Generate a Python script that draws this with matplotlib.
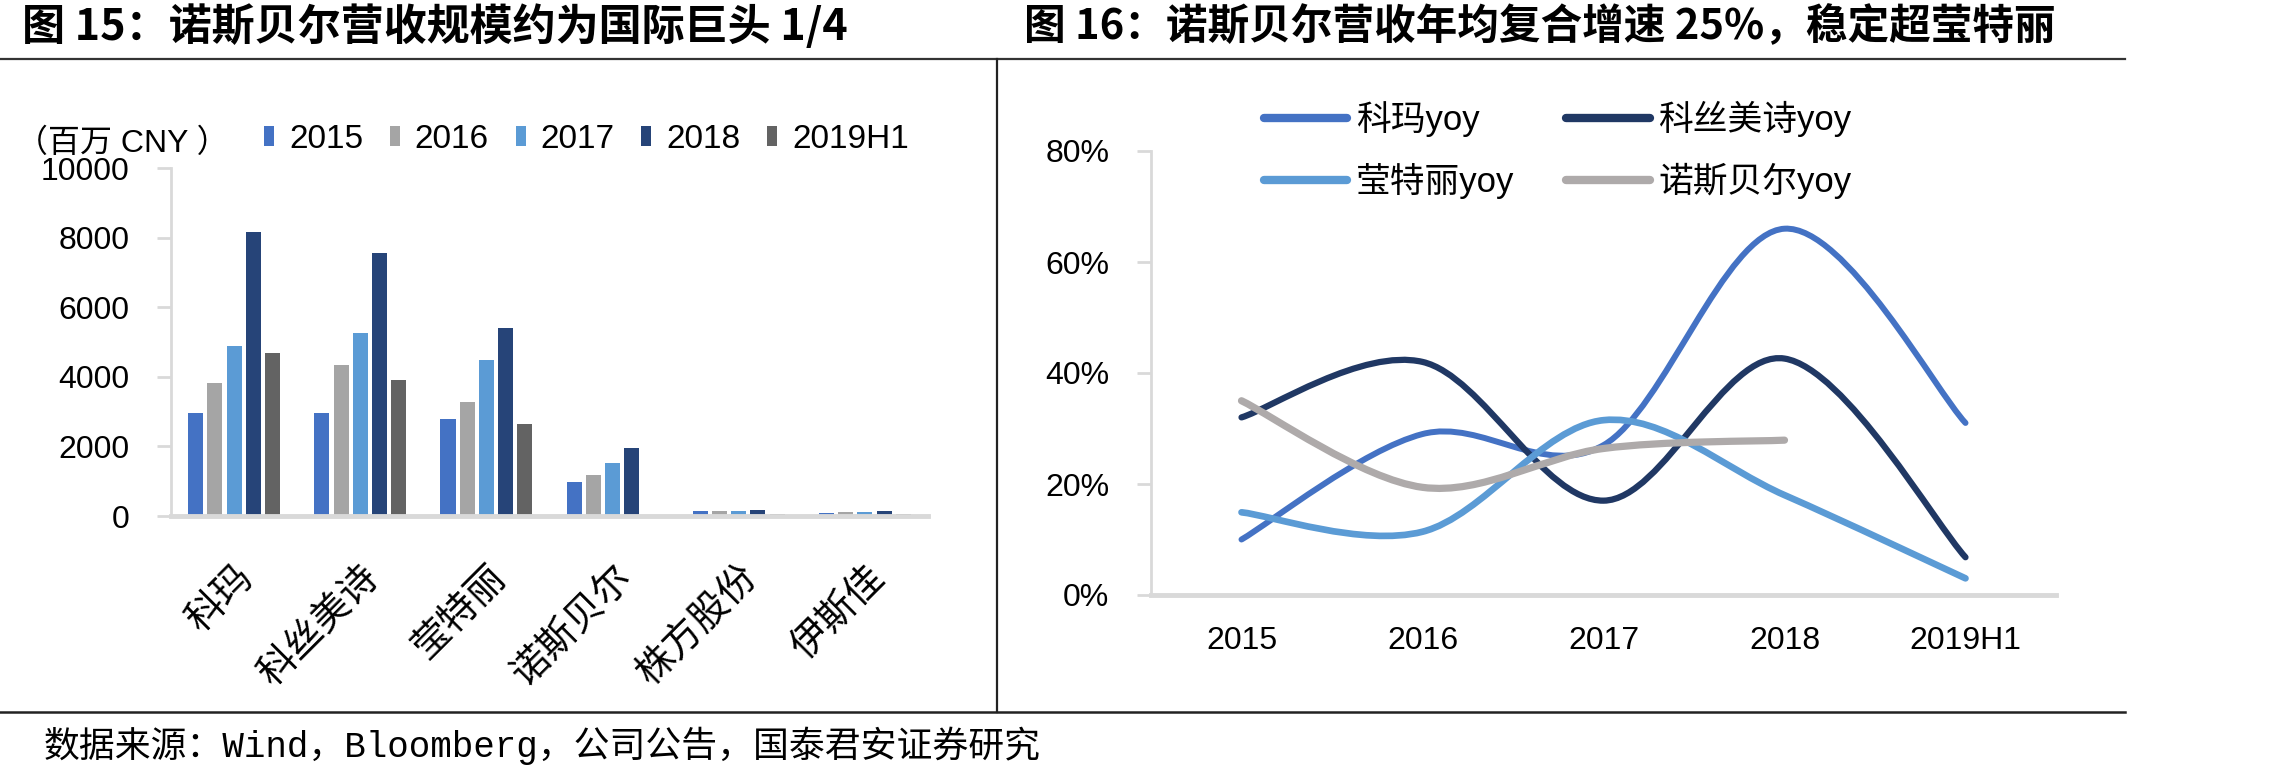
import numpy as np
import matplotlib
matplotlib.use("Agg")
import matplotlib.pyplot as plt
from matplotlib.lines import Line2D
from matplotlib.patches import Patch, PathPatch
from matplotlib.path import Path
from matplotlib.transforms import ScaledTranslation

# ---------------- data ----------------
companies = ["科玛", "科丝美诗", "莹特丽", "诺斯贝尔", "株方股份", "伊斯佳"]
bar_years = ["2015", "2016", "2017", "2018", "2019H1"]
rev_2015 = [2960, 2950, 2790, 980, 140, 90]
rev_2016 = [3820, 4330, 3280, 1180, 140, 110]
rev_2017 = [4890, 5260, 4490, 1520, 140, 110]
rev_2018 = [8160, 7570, 5400, 1960, 160, 140]
rev_2019H1 = [4680, 3900, 2650, np.nan, 70, 60]
bar_yticks = [0, 2000, 4000, 6000, 8000, 10000]

line_years = ["2015", "2016", "2017", "2018", "2019H1"]
kolmar_yoy = [0.10, 0.29, 0.27, 0.66, 0.31]
cosmax_yoy = [0.32, 0.42, 0.17, 0.426, 0.068]
intercos_yoy = [0.149, 0.114, 0.315, 0.18, 0.03]
nox_yoy = [0.35, 0.194, 0.264, 0.279, np.nan]
line_yticks = [0.0, 0.2, 0.4, 0.6, 0.8]

title_left = "图 15：诺斯贝尔营收规模约为国际巨头 1/4"
title_right = "图 16：诺斯贝尔营收年均复合增速 25%，稳定超莹特丽"
source_text = "数据来源：Wind，Bloomberg，公司公告，国泰君安证券研究"
unit_text = "（百万 CNY ）"

# ---------------- style ----------------
W, H = 2291, 778
CJK = "Noto Sans CJK SC"
LAT = "Liberation Sans"
plt.rcParams["font.family"] = [LAT, CJK, "DejaVu Sans"]
bar_colors = ["#4472C4", "#A5A5A5", "#5B9BD5", "#264478", "#636363"]
line_colors = ["#4472C4", "#203864", "#5B9BD5", "#AEAAAA"]
axis_gray = "#D9D9D9"

fig = plt.figure(figsize=(W / 100, H / 100), dpi=100)


def fx(px):
    return px / W


def fy(py):
    return 1 - py / H


# frame lines
fig.add_artist(Line2D([fx(0), fx(2125)], [fy(59), fy(59)], color="#333333", lw=1.6,
                      transform=fig.transFigure))
fig.add_artist(Line2D([fx(0), fx(2125)], [fy(712), fy(712)], color="#222222", lw=1.8,
                      transform=fig.transFigure))
fig.add_artist(Line2D([fx(997), fx(997)], [fy(59), fy(712)], color="#222222", lw=1.6,
                      transform=fig.transFigure))

# titles and source
fig.text(fx(22), fy(27), title_left, fontsize=31, fontweight="bold", family=[CJK],
         ha="left", va="center")
fig.text(fx(1024), fy(27), title_right, fontsize=30, fontweight="bold", family=[CJK],
         ha="left", va="center")
fig.text(fx(44), fy(746), source_text, fontsize=25.8, family=["Liberation Mono", CJK],
         ha="left", va="center")

# ---------------- left: bar chart ----------------
ax1 = fig.add_axes([fx(171), fy(516), fx(928) - fx(171), fy(168) - fy(516)])
x = np.arange(len(companies))
series = [rev_2015, rev_2016, rev_2017, rev_2018, rev_2019H1]
bw, step = 0.12, 0.152
for i, (vals, c) in enumerate(zip(series, bar_colors)):
    ax1.bar(x + (i - 2) * step, vals, width=bw, color=c, zorder=2)
ax1.set_xlim(-0.5, len(companies) - 0.5)
ax1.set_ylim(0, 10000)
ax1.set_yticks(bar_yticks)
ax1.set_yticklabels([str(v) for v in bar_yticks], fontsize=23)
ax1.set_xticks(x)
ax1.set_xticklabels(companies, rotation=45, ha="right", rotation_mode="anchor",
                    fontsize=27.5, family=[CJK])
shift = ScaledTranslation(-0.2, 0, fig.dpi_scale_trans)
for lab in ax1.get_xticklabels():
    lab.set_transform(lab.get_transform() + shift)
ax1.tick_params(axis="y", length=10, width=2, color=axis_gray, pad=20)
ax1.tick_params(axis="x", length=0, pad=30)
for s in ["top", "right"]:
    ax1.spines[s].set_visible(False)
ax1.spines["left"].set_color(axis_gray)
ax1.spines["left"].set_linewidth(2)
ax1.spines["bottom"].set_color(axis_gray)
ax1.spines["bottom"].set_linewidth(3.5)
ax1.spines["bottom"].set_zorder(3)

fig.text(fx(16), fy(144), unit_text, fontsize=23, family=[LAT, CJK], ha="left", va="center")
bar_handles = [Patch(facecolor=c, edgecolor="none") for c in bar_colors]
fig.legend(bar_handles, bar_years, loc="center left", bbox_to_anchor=(fx(264), fy(139)),
           bbox_transform=fig.transFigure, ncol=5, frameon=False, fontsize=24,
           handlelength=0.3, handleheight=0.55, handletextpad=0.45, columnspacing=0.8,
           borderpad=0, borderaxespad=0)

# ---------------- right: smoothed line chart ----------------
ax2 = fig.add_axes([fx(1151), fy(595), fx(2056) - fx(1151), fy(151) - fy(595)])


def smooth_path(xs, ys):
    pts = [(a, b) for a, b in zip(xs, ys) if not np.isnan(b)]
    n = len(pts)
    verts = [pts[0]]
    codes = [Path.MOVETO]
    for i in range(n - 1):
        p0 = pts[i - 1] if i > 0 else pts[i]
        p1, p2 = pts[i], pts[i + 1]
        p3 = pts[i + 2] if i + 2 < n else pts[i + 1]
        c1 = (p1[0] + (p2[0] - p0[0]) / 6, p1[1] + (p2[1] - p0[1]) / 6)
        c2 = (p2[0] - (p3[0] - p1[0]) / 6, p2[1] - (p3[1] - p1[1]) / 6)
        verts += [c1, c2, p2]
        codes += [Path.CURVE4] * 3
    return Path(verts, codes)


xl = np.arange(len(line_years))
line_series = [kolmar_yoy, cosmax_yoy, intercos_yoy, nox_yoy]
line_labels = ["科玛yoy", "科丝美诗yoy", "莹特丽yoy", "诺斯贝尔yoy"]
line_widths = [4.3, 4.5, 4.8, 5.2]
for vals, c, lw in zip(line_series, line_colors, line_widths):
    ax2.add_patch(PathPatch(smooth_path(xl, vals), fill=False, edgecolor=c, lw=lw,
                            capstyle="round", joinstyle="round", zorder=2))
ax2.set_xlim(-0.5, len(line_years) - 0.5)
ax2.set_ylim(0, 0.8)
ax2.set_yticks(line_yticks)
ax2.set_yticklabels([f"{int(round(v * 100))}%" for v in line_yticks], fontsize=23)
ax2.set_xticks(xl)
ax2.set_xticklabels(line_years, fontsize=23)
ax2.tick_params(axis="y", length=10, width=2, color=axis_gray, pad=20)
ax2.tick_params(axis="x", length=0, pad=22)
for s in ["top", "right"]:
    ax2.spines[s].set_visible(False)
ax2.spines["left"].set_color(axis_gray)
ax2.spines["left"].set_linewidth(2)
ax2.spines["bottom"].set_color(axis_gray)
ax2.spines["bottom"].set_linewidth(3.5)

lh = [Line2D([0], [0], color=c, lw=6, solid_capstyle="round") for c in line_colors]
order = [0, 2, 1, 3]
fig.legend([lh[i] for i in order], [line_labels[i] for i in order], loc="center left",
           bbox_to_anchor=(fx(1264), fy(150)), bbox_transform=fig.transFigure, ncol=2,
           frameon=False, prop={"family": [LAT, CJK], "size": 25},
           handlelength=2.4, handletextpad=0.25, columnspacing=1.5, labelspacing=0.75,
           borderpad=0, borderaxespad=0)

fig.savefig("out.png", dpi=100)
